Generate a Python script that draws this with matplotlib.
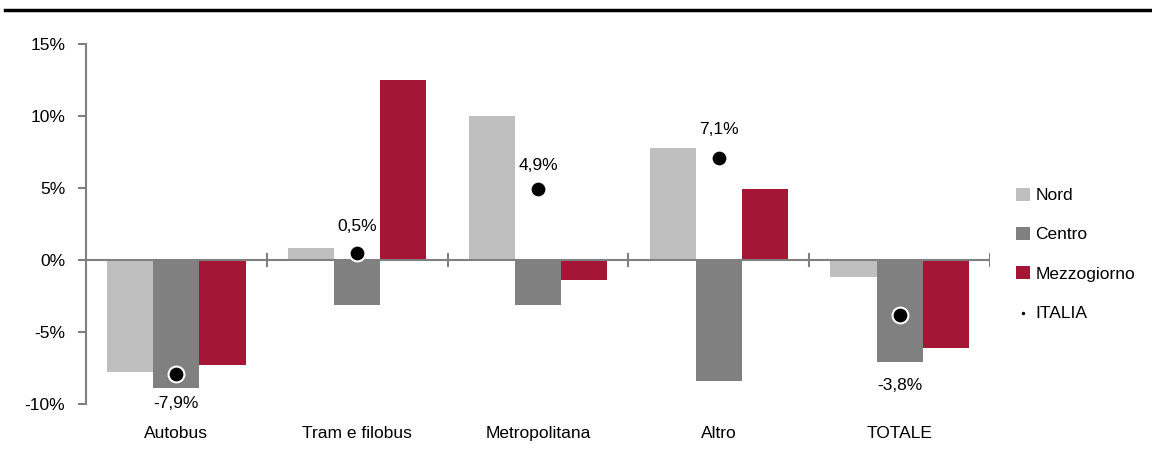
import numpy as np
import matplotlib.pyplot as plt
from matplotlib.ticker import FuncFormatter

plt.rcParams['font.family'] = ['Liberation Sans', 'DejaVu Sans']

categories = ['Autobus', 'Tram e filobus', 'Metropolitana', 'Altro', 'TOTALE']
nord = [-7.8, 0.8, 10.0, 7.8, -1.2]
centro = [-8.9, -3.1, -3.1, -8.4, -7.1]
mezzogiorno = [-7.3, 12.5, -1.4, 4.9, -6.1]
italia = [-7.9, 0.5, 4.9, 7.1, -3.8]
# label offsets in pixels from the ITALIA dot
label_dy = [-30, 26, 24, 28, -71]

c_nord = '#BFBFBF'
c_centro = '#808080'
c_mezz = '#A51535'
axis_grey = '#808080'

fig = plt.figure(figsize=(11.52, 4.55), dpi=100)
ax = fig.add_axes([86 / 1152, 1 - 404 / 455, (990 - 86) / 1152, (404 - 44) / 455])

x = np.arange(len(categories))
w = 0.255
ax.bar(x - w, nord, w, color=c_nord, label='Nord')
ax.bar(x, centro, w, color=c_centro, label='Centro')
ax.bar(x + w, mezzogiorno, w, color=c_mezz, label='Mezzogiorno')
ax.scatter(x, italia, s=130, color='black', edgecolor='white', linewidth=1.5,
           zorder=5, label='ITALIA')

for xi, v, dy in zip(x, italia, label_dy):
    txt = f'{v:.1f}%'.replace('.', ',')
    ax.annotate(txt, (xi, v), xytext=(0, dy * 0.72), textcoords='offset points',
                ha='center', va='center', fontsize=12.5)

ax.set_xlim(-0.5, len(categories) - 0.5)
ax.set_ylim(-10, 15)
ax.set_yticks([-10, -5, 0, 5, 10, 15])
ax.yaxis.set_major_formatter(FuncFormatter(lambda v, p: f'{v:.0f}%'))
ax.tick_params(axis='y', labelsize=12.5, color=axis_grey, length=6, width=1.5, pad=9)

# category axis drawn along zero with separator ticks
for s in ['top', 'right', 'bottom']:
    ax.spines[s].set_visible(False)
ax.spines['left'].set_color(axis_grey)
ax.spines['left'].set_linewidth(1.5)
ax.axhline(0, color=axis_grey, lw=1.5, zorder=1)
for b in np.arange(0.5, len(categories), 1.0):
    ax.plot([b, b], [-0.45, 0.45], color=axis_grey, lw=1.5, zorder=1)
ax.set_xticks(x)
ax.set_xticklabels(categories)
ax.tick_params(axis='x', length=0, labelsize=12.5, pad=16)

handles, labels = ax.get_legend_handles_labels()
order = [labels.index(n) for n in ['Nord', 'Centro', 'Mezzogiorno', 'ITALIA']]
leg = fig.legend([handles[i] for i in order], [labels[i] for i in order],
                 loc='upper left', bbox_to_anchor=(1000 / 1152, 1 - 172 / 455),
                 frameon=False, fontsize=12.5, handlelength=0.8, handleheight=0.8,
                 handletextpad=0.35, labelspacing=1.35, markerscale=0.35)

fig.add_artist(plt.Line2D([0.004, 1.0], [1 - 10 / 455, 1 - 10 / 455], color='black',
                          lw=2.5, transform=fig.transFigure))

fig.savefig('out.png', dpi=100)
